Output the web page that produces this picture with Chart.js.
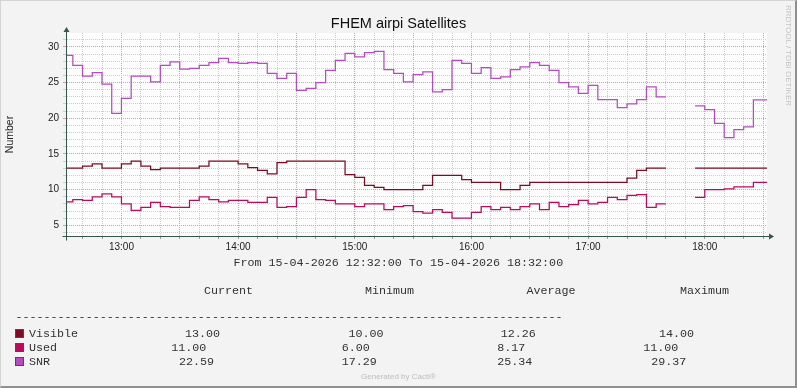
<!DOCTYPE html>
<html>
<head>
<meta charset="utf-8">
<title>FHEM airpi Satellites</title>
<script src="https://cdn.jsdelivr.net/npm/chart.js@4.4.1/dist/chart.umd.min.js"></script>
<style>
  html, body { margin: 0; padding: 0; background: #f3f3f3; }
  #wrap { position: relative; width: 797px; height: 388px; background: #f3f3f3; overflow: hidden; }
  #chart { position: absolute; left: 0; top: 0; }
  #frame { position: absolute; left: 0; top: 0; width: 797px; height: 388px; box-sizing: border-box;
           border-top: 1px solid #d4d4d4; border-left: 1px solid #d4d4d4;
           border-right: 2px solid #909090; border-bottom: 2px solid #909090; pointer-events: none; }
  .mono { position: absolute; font-family: 'Liberation Mono', 'Courier New', monospace; font-size: 11.7px;
          line-height: 12px; color: #333; white-space: pre; }
  .box { position: absolute; width: 7px; height: 7px; border: 1px solid #35574b; }
  #rrd { position: absolute; left: 784px; top: 5px; writing-mode: vertical-rl; font: 8px 'Liberation Sans', sans-serif;
         color: #c4c4c4; white-space: nowrap; }
  #cacti { position: absolute; left: 0; width: 797px; top: 372px; text-align: center;
           font: 8px 'Liberation Sans', sans-serif; color: #bdbdbd; }
</style>
</head>
<body>
<div id="wrap">
  <canvas id="chart" width="797" height="388"></canvas>
  <div id="legend"></div>
  <div id="rrd">RRDTOOL / TOBI OETIKER</div>
  <div id="cacti">Generated by Cacti®</div>
  <div id="frame"></div>
</div>
<script>
// 5-minute intervals (start time of each interval)
const times = [
  '12:30','12:35','12:40','12:45','12:50','12:55',
  '13:00','13:05','13:10','13:15','13:20','13:25','13:30','13:35','13:40','13:45','13:50','13:55',
  '14:00','14:05','14:10','14:15','14:20','14:25','14:30','14:35','14:40','14:45','14:50','14:55',
  '15:00','15:05','15:10','15:15','15:20','15:25','15:30','15:35','15:40','15:45','15:50','15:55',
  '16:00','16:05','16:10','16:15','16:20','16:25','16:30','16:35','16:40','16:45','16:50','16:55',
  '17:00','17:05','17:10','17:15','17:20','17:25','17:30','17:35','17:40','17:45','17:50','17:55',
  '18:00','18:05','18:10','18:15','18:20','18:25','18:30'
];

const visible = [
  13, 13, 13.3, 13.6, 13, 13,
  13.6, 14, 13.3, 12.8, 13, 13, 13, 13, 13.3, 14, 14, 14,
  13.6, 13.1, 12.7, 12.2, 13.8, 14, 14, 14, 14, 14, 14, 12.1,
  11.7, 10.6, 10.3, 10, 10, 10, 10, 10.6, 12, 12, 12, 11.4,
  11, 11, 11, 10, 10, 10.6, 11, 11, 11, 11, 11, 11,
  11, 11, 11, 11, 11.6, 12.7, 13, 13, null, null, null, 13,
  13, 13, 13, 13, 13, 13, 13
];

const used = [
  8.3, 8.6, 8.5, 9, 9.4, 9,
  8, 7.1, 7.5, 8.2, 7.6, 7.5, 7.5, 8.5, 9, 8.6, 8.3, 8.5,
  8.5, 8.2, 8.2, 8.9, 7.5, 7.6, 8.9, 10, 8.6, 8.5, 8, 8,
  7.6, 8, 8, 7.2, 7.6, 7.75, 6.9, 6.7, 7.2, 6.8, 6, 6,
  6.8, 7.6, 7.2, 7.5, 7.2, 7.6, 8, 7.2, 8.2, 7.6, 7.9, 8.5,
  8, 8.2, 8.9, 8.6, 9.2, 9.3, 7.5, 8, null, null, null, 8.9,
  10, 10, 10.1, 10.4, 10.4, 11, 11
];

const snr = [
  28.8, 27.4, 25.9, 26.4, 24.8, 20.7,
  22.8, 25.9, 25.9, 25.1, 27.4, 27.9, 26.9, 27, 27.4, 27.8, 28.4, 27.8,
  27.7, 27.8, 27.7, 26.3, 25.6, 26.3, 23.9, 24.2, 25, 26.7, 28.1, 29.1,
  28.6, 29.2, 29.37, 26.8, 26.3, 25.1, 26.1, 26.5, 23.7, 24, 28.1, 27.7,
  26.3, 27.1, 25.6, 25.8, 26.8, 27.2, 27.8, 27.4, 26.7, 25, 24.4, 23.5,
  24.6, 22.6, 22.6, 21.5, 22, 22.6, 24.4, 23, null, null, null, 21.75,
  21.2, 19.3, 17.29, 18.4, 18.8, 22.59, 22.59
];

const xTickLabels = ['13:00', '14:00', '15:00', '16:00', '17:00', '18:00'];
const yTickLabels = [5, 10, 15, 20, 25, 30];

// legend
const seriesNames = ['Visible', 'Used', 'SNR'];
const seriesColors = ['#7d0b23', '#b90c5f', '#b24cbf'];
const statCurrent = ['13.00', '11.00', '22.59'];
const statMinimum = ['10.00', '6.00', '17.29'];
const statAverage = ['12.26', '8.17', '25.34'];
const statMaximum = ['14.00', '11.00', '29.37'];

const AXIS = '#35574b';
const STEP = 5;

const toMin = s => { const [h, m] = s.split(':').map(Number); return h * 60 + m; };
const fmt = v => {
  const r = Math.round(v);
  return String(Math.floor(r / 60)).padStart(2, '0') + ':' + String(r % 60).padStart(2, '0');
};

// each value holds for its 5 minute interval; close every run so the last interval is drawn too
function stepPoints(values) {
  const pts = [];
  values.forEach((v, i) => {
    const t = toMin(times[i]);
    if (v === null) { pts.push({ x: t, y: null }); return; }
    pts.push({ x: t, y: v });
    const next = values[i + 1];
    if (next === undefined || next === null) pts.push({ x: t + STEP, y: v });
  });
  return pts;
}

// plot background + axes with arrows, rrdtool style
const rrdFrame = {
  id: 'rrdFrame',
  beforeDraw(chart) {
    const { ctx, chartArea: a } = chart;
    ctx.save();
    ctx.fillStyle = '#fdfdfd';
    ctx.fillRect(a.left, a.top, a.right - a.left, a.bottom - a.top);
    ctx.restore();
  },
  afterDraw(chart) {
    const { ctx, chartArea: a } = chart;
    const x0 = Math.round(a.left) - 0.5, y0 = Math.round(a.bottom) + 0.5;
    ctx.save();
    ctx.strokeStyle = AXIS;
    ctx.fillStyle = AXIS;
    ctx.lineWidth = 1;
    ctx.beginPath();
    ctx.moveTo(x0 - 4, y0); ctx.lineTo(a.right + 3, y0);
    ctx.moveTo(x0, y0 + 4); ctx.lineTo(x0, a.top - 2);
    ctx.stroke();
    ctx.beginPath();
    ctx.moveTo(a.right + 7, y0); ctx.lineTo(a.right + 2, y0 - 3); ctx.lineTo(a.right + 2, y0 + 3);
    ctx.closePath(); ctx.fill();
    ctx.beginPath();
    ctx.moveTo(x0, a.top - 6); ctx.lineTo(x0 - 3, a.top - 1); ctx.lineTo(x0 + 3, a.top - 1);
    ctx.closePath(); ctx.fill();
    ctx.restore();
  }
};

Chart.defaults.font.family = "'Liberation Sans', Arial, sans-serif";

const line = (label, values, color) => ({
  label, data: stepPoints(values), stepped: true, borderColor: color, backgroundColor: color,
  borderWidth: 1.25, pointRadius: 0, fill: false, spanGaps: false
});

const isMajor = (v, every) => Math.abs(v / every - Math.round(v / every)) < 1e-6;

new Chart(document.getElementById('chart'), {
  type: 'line',
  data: {
    datasets: [
      line('Visible', visible, seriesColors[0]),
      line('Used', used, seriesColors[1]),
      line('SNR', snr, seriesColors[2])
    ]
  },
  options: {
    responsive: false,
    animation: false,
    layout: { padding: 0 },
    plugins: {
      legend: { display: false },
      tooltip: { enabled: false },
      title: {
        display: true, text: 'FHEM airpi Satellites', color: '#111',
        font: { size: 14.5, weight: 'normal' }, padding: { top: 15, bottom: 0.6 }
      }
    },
    scales: {
      x: {
        type: 'linear', min: toMin('12:32'), max: toMin('18:32'),
        afterFit: s => { s.height = 152; },
        // grid every 10 minutes on the clock, not from the window start
        afterBuildTicks: s => {
          const ticks = [];
          for (let v = Math.ceil(s.min / 10) * 10; v < s.max; v += 10) ticks.push({ value: v });
          s.ticks = ticks;
        },
        ticks: {
          autoSkip: false, maxRotation: 0, padding: 2,
          color: '#222', font: { size: 10 },
          callback: v => xTickLabels.includes(fmt(v)) ? fmt(v) : ''
        },
        grid: {
          color: c => isMajor(c.tick.value, 30) ? '#e4999a' : '#cdcdcd',
          tickColor: '#9a9a9a', tickLength: 3
        },
        border: { display: false, dash: [1, 1] }
      },
      y: {
        min: 3.5, max: 31.95,
        afterFit: s => { s.width = 67; },
        title: { display: true, text: 'Number', color: '#222', font: { size: 10.5 }, padding: { top: 4, bottom: 0 } },
        ticks: {
          stepSize: 1, includeBounds: false, autoSkip: false, padding: 4,
          color: '#222', font: { size: 10 },
          callback: v => yTickLabels.includes(Math.round(v)) && isMajor(v, 5) ? String(Math.round(v)) : ''
        },
        grid: {
          color: c => isMajor(c.tick.value, 5) ? '#e4999a' : '#cdcdcd',
          tickColor: c => isMajor(c.tick.value, 5) ? '#e4999a' : '#cdcdcd', tickLength: 4
        },
        border: { display: false, dash: [1, 1] }
      },
      // empty right-hand margin, keeps the title centred on the whole image
      side: {
        position: 'right', display: true,
        afterFit: s => { s.width = 30; },
        ticks: { display: false }, grid: { display: false }, border: { display: false }
      }
    }
  },
  plugins: [rrdFrame]
});

// text legend below the graph
const legend = document.getElementById('legend');
function put(text, left, baseline) {
  const el = document.createElement('div');
  el.className = 'mono';
  el.textContent = text;
  el.style.left = left + 'px';
  el.style.top = (baseline - 9.1) + 'px';
  legend.appendChild(el);
}
put('From 15-04-2026 12:32:00 To 15-04-2026 18:32:00', 233.5, 266);
put('Current', 204, 294);
put('Minimum', 365, 294);
put('Average', 526.5, 294);
put('Maximum', 680, 294);
put('-'.repeat(78), 15.5, 320.5);
const rowBase = [337.5, 351.3, 365.3];
const colLeft = [
  [185, 348.5, 500.8, 659],
  [171.3, 341.8, 497.3, 643.3],
  [179, 341.8, 497.3, 651.3]
];
seriesNames.forEach((name, i) => {
  const box = document.createElement('div');
  box.className = 'box';
  box.style.left = '15px';
  box.style.top = (rowBase[i] - 8.5) + 'px';
  box.style.background = seriesColors[i];
  legend.appendChild(box);
  put(name, 29, rowBase[i]);
  [statCurrent, statMinimum, statAverage, statMaximum].forEach((col, j) => put(col[i], colLeft[i][j], rowBase[i]));
});
</script>
</body>
</html>
